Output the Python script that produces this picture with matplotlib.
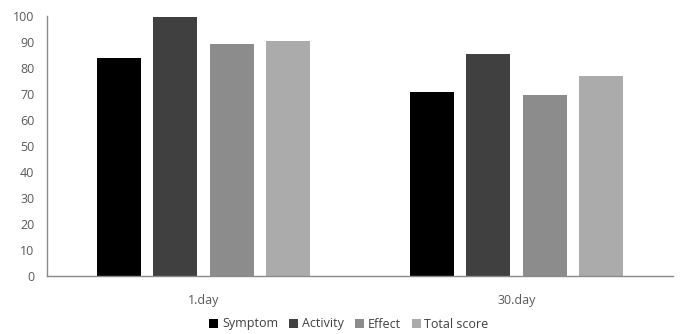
import matplotlib
matplotlib.use('Agg')
import matplotlib.pyplot as plt
import numpy as np

plt.rcParams['font.family'] = ['Open Sans', 'DejaVu Sans']

categories = ['1.day', '30.day']
series = ['Symptom', 'Activity', 'Effect', 'Total score']
symptom = [83.8, 70.8]
activity = [99.6, 85.4]
effect = [89.2, 69.6]
total_score = [90.4, 76.9]
colors = ['#000000', '#404040', '#8c8c8c', '#ababab']

values = [symptom, activity, effect, total_score]

fig = plt.figure(figsize=(6.8, 3.34), dpi=100)
ax = fig.add_axes([47 / 680, 1 - 276 / 334, 626 / 680, 260 / 334])

x = np.arange(len(categories))
width = 0.14
step = 0.18
for i, (name, vals) in enumerate(zip(series, values)):
    ax.bar(x + (i - 1.5) * step, vals, width, color=colors[i], label=name)

ax.set_xlim(-0.5, 1.5)
ax.set_ylim(0, 100)
ax.set_yticks(range(0, 101, 10))
ax.set_xticks(x)
ax.set_xticklabels(categories)
ax.tick_params(axis='both', length=0, labelsize=9, colors='#595959')
ax.tick_params(axis='x', pad=13)
ax.tick_params(axis='y', pad=9)
for s in ['top', 'right']:
    ax.spines[s].set_visible(False)
for s in ['left', 'bottom']:
    ax.spines[s].set_color('#8a8a8a')
    ax.spines[s].set_linewidth(1)

ax.legend(loc='center', bbox_to_anchor=(349 / 680, 1 - 324 / 334),
          bbox_transform=fig.transFigure, ncol=4, frameon=False,
          fontsize=9, handlelength=0.7, handleheight=0.7, handletextpad=0.3,
          columnspacing=0.9, labelcolor='#404040')

plt.savefig('out.png', dpi=100)
